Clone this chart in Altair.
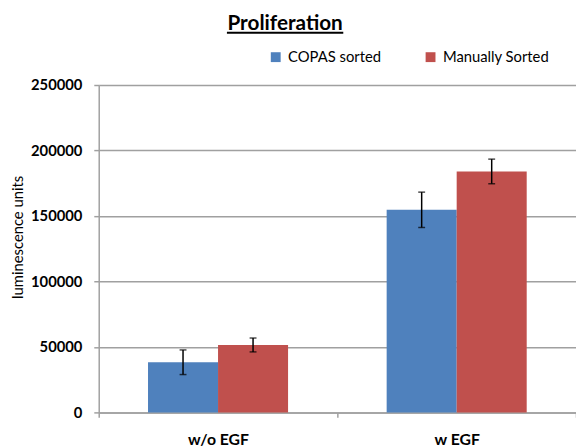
import altair as alt
import pandas as pd

chart_title = "Proliferation"
categories = ["w/o EGF", "w EGF"]
series = ["COPAS sorted", "Manually Sorted"]
copas_values = [38300, 154700]
manual_values = [51500, 184000]
copas_err = [9400, 13500]
manual_err = [5300, 9400]
y_ticks = [0, 50000, 100000, 150000, 200000, 250000]
colors = ["#4F81BD", "#C0504D"]

rows = []
for i, c in enumerate(categories):
    rows.append({"cat": c, "series": series[0], "value": copas_values[i],
                 "lo": copas_values[i] - copas_err[i], "hi": copas_values[i] + copas_err[i]})
    rows.append({"cat": c, "series": series[1], "value": manual_values[i],
                 "lo": manual_values[i] - manual_err[i], "hi": manual_values[i] + manual_err[i]})
df = pd.DataFrame(rows)

FONT = "Lato"
GRID = "#a0a0a0"

x_enc = alt.X("cat:N", sort=categories, title=None,
              scale=alt.Scale(paddingInner=0, paddingOuter=0),
              axis=alt.Axis(labelAngle=0, labelFont=FONT, labelFontWeight="bold",
                            labelFontSize=16, labelColor="#000", labelPadding=15,
                            tickBand="extent", tickSize=5, tickColor=GRID, tickWidth=1.5,
                            domainColor=GRID, domainWidth=1.5, grid=False))
xo_enc = alt.XOffset("series:N", sort=series,
                     scale=alt.Scale(paddingOuter=0.704, paddingInner=0))
y_scale = alt.Scale(domain=[0, 250000], nice=False)

bars = alt.Chart(df).mark_bar().encode(
    x=x_enc,
    xOffset=xo_enc,
    y=alt.Y("value:Q", scale=y_scale, title="luminescence units",
            axis=alt.Axis(values=y_ticks, format="d", labelFont=FONT, labelFontWeight="bold",
                          labelFontSize=15, labelColor="#000", labelPadding=12,
                          tickSize=5, tickColor=GRID, tickWidth=1.5,
                          domainColor=GRID, domainWidth=1.5,
                          gridColor=GRID, gridWidth=1.5,
                          titleFont=FONT, titleFontSize=15, titleFontWeight="normal",
                          titleColor="#000", titleX=-82, titleY=154, titleAngle=-90,
                          titleAlign="center", titleBaseline="middle")),
    color=alt.Color("series:N", sort=series, scale=alt.Scale(domain=series, range=colors),
                    legend=alt.Legend(title=None, orient="none", direction="horizontal",
                                      legendX=172, legendY=-36, symbolType="square",
                                      symbolSize=100, symbolStrokeWidth=0,
                                      labelFont=FONT, labelFontSize=15, labelColor="#000",
                                      labelOffset=5, columnPadding=42)),
)

err_rule = alt.Chart(df).mark_rule(color="#000", strokeWidth=1.5).encode(
    x=alt.X("cat:N", sort=categories),
    xOffset=alt.XOffset("series:N", sort=series),
    y=alt.Y("lo:Q", scale=y_scale),
    y2="hi:Q",
)
cap_lo = alt.Chart(df).mark_tick(color="#000", thickness=1.5, size=7).encode(
    x=alt.X("cat:N", sort=categories),
    xOffset=alt.XOffset("series:N", sort=series),
    y=alt.Y("lo:Q", scale=y_scale),
)
cap_hi = alt.Chart(df).mark_tick(color="#000", thickness=1.5, size=7).encode(
    x=alt.X("cat:N", sort=categories),
    xOffset=alt.XOffset("series:N", sort=series),
    y=alt.Y("hi:Q", scale=y_scale),
)
title_df = pd.DataFrame({"t": [chart_title]})
title_text = alt.Chart(title_df).mark_text(
    font=FONT, fontSize=21, fontWeight="bold", color="#000",
    align="center", baseline="alphabetic"
).encode(text="t:N", x=alt.value(189), y=alt.value(-56))
underline = alt.Chart(title_df).mark_rule(color="#000", strokeWidth=2).encode(
    x=alt.value(130), x2=alt.value(248), y=alt.value(-53)
)

chart = alt.layer(bars, err_rule, cap_lo, cap_hi, title_text, underline).properties(
    width=484, height=332,
    autosize=alt.AutoSizeParams(type="none"),
    padding={"left": 92, "top": 75, "right": 0, "bottom": 33},
).configure_view(stroke=None)

chart.save("out.html", embed_options={"renderer": "svg", "actions": False})
